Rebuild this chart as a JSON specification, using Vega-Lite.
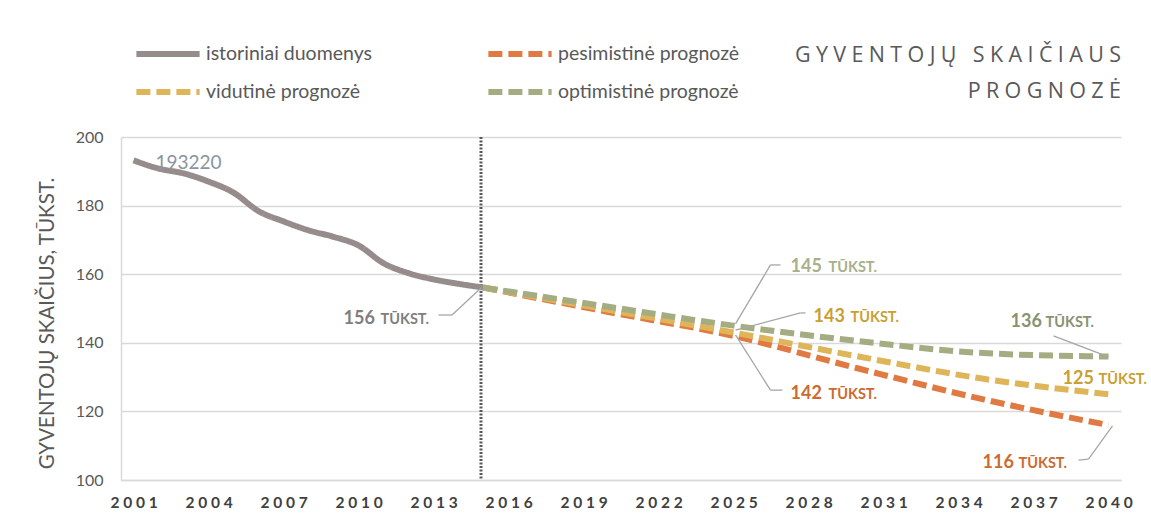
{
  "$schema": "https://vega.github.io/schema/vega-lite/v6.json",
  "width": 1000,
  "height": 343,
  "autosize": {"type": "none"},
  "padding": {"left": 121, "top": 137, "right": 30, "bottom": 51},
  "background": "white",
  "config": {
    "view": {"stroke": null},
    "font": "Lato"
  },
  "title": {
    "text": ["G\u2005Y\u2005V\u2005E\u2005N\u2005T\u2005O\u2005J\u2005Ų\u2005 \u2005S\u2005K\u2005A\u2005I\u2005Č\u2005I\u2005A\u2005U\u2005S", "P\u2005R\u2005O\u2005G\u2005N\u2005O\u2005Z\u2005Ė"],
    "anchor": "end",
    "frame": "group",
    "font": "Open Sans",
    "fontSize": 21.5,
    "fontWeight": "normal",
    "color": "#595959",
    "lineHeight": 36,
    "offset": -58
  },
  "datasets": {
    "series": [
      {"series": "istoriniai duomenys", "year": 2001, "value": 193.2},
      {"series": "istoriniai duomenys", "year": 2002, "value": 190.8},
      {"series": "istoriniai duomenys", "year": 2003, "value": 189.4},
      {"series": "istoriniai duomenys", "year": 2004, "value": 187.0},
      {"series": "istoriniai duomenys", "year": 2005, "value": 183.8},
      {"series": "istoriniai duomenys", "year": 2006, "value": 178.4},
      {"series": "istoriniai duomenys", "year": 2007, "value": 175.4},
      {"series": "istoriniai duomenys", "year": 2008, "value": 172.8},
      {"series": "istoriniai duomenys", "year": 2009, "value": 170.9},
      {"series": "istoriniai duomenys", "year": 2010, "value": 168.4},
      {"series": "istoriniai duomenys", "year": 2011, "value": 163.2},
      {"series": "istoriniai duomenys", "year": 2012, "value": 160.3},
      {"series": "istoriniai duomenys", "year": 2013, "value": 158.5},
      {"series": "istoriniai duomenys", "year": 2014, "value": 157.2},
      {"series": "istoriniai duomenys", "year": 2015, "value": 156.1},
      {"series": "pesimistinė prognozė", "year": 2015, "value": 156.1},
      {"series": "pesimistinė prognozė", "year": 2020, "value": 149.0},
      {"series": "pesimistinė prognozė", "year": 2025, "value": 142.0},
      {"series": "pesimistinė prognozė", "year": 2030, "value": 132.5},
      {"series": "pesimistinė prognozė", "year": 2035, "value": 123.5},
      {"series": "pesimistinė prognozė", "year": 2040, "value": 116.0},
      {"series": "vidutinė prognozė", "year": 2015, "value": 156.1},
      {"series": "vidutinė prognozė", "year": 2020, "value": 149.6},
      {"series": "vidutinė prognozė", "year": 2025, "value": 143.0},
      {"series": "vidutinė prognozė", "year": 2030, "value": 136.0},
      {"series": "vidutinė prognozė", "year": 2035, "value": 129.5},
      {"series": "vidutinė prognozė", "year": 2040, "value": 125.0},
      {"series": "optimistinė prognozė", "year": 2015, "value": 156.1},
      {"series": "optimistinė prognozė", "year": 2020, "value": 150.5},
      {"series": "optimistinė prognozė", "year": 2025, "value": 145.0},
      {"series": "optimistinė prognozė", "year": 2030, "value": 140.5},
      {"series": "optimistinė prognozė", "year": 2035, "value": 137.0},
      {"series": "optimistinė prognozė", "year": 2040, "value": 136.0}
    ],
    "leaders": [
      {"x": 2014.9, "y": 156.0, "x2": 2013.74, "y2": 148.1},
      {"x": 2013.74, "y": 148.1, "x2": 2013.2, "y2": 148.1},
      {"x": 2025.08, "y": 145.5, "x2": 2026.48, "y2": 162.7},
      {"x": 2026.48, "y": 162.7, "x2": 2026.88, "y2": 162.7},
      {"x": 2025.08, "y": 143.7, "x2": 2027.68, "y2": 148.7},
      {"x": 2027.68, "y": 148.7, "x2": 2027.88, "y2": 148.7},
      {"x": 2025.08, "y": 142.3, "x2": 2026.48, "y2": 126.2},
      {"x": 2026.48, "y": 126.2, "x2": 2026.96, "y2": 126.2},
      {"x": 2037.8, "y": 142.0, "x2": 2040.0, "y2": 135.9},
      {"x": 2040.16, "y": 115.8, "x2": 2039.2, "y2": 106.1},
      {"x": 2039.2, "y": 106.1, "x2": 2038.8, "y2": 105.8}
    ],
    "labels": [
      {"num": "156", "unit": "TŪKST.", "nx": 2009.4, "ux": 2010.88, "y": 145.6, "tone": "gray"},
      {"num": "145", "unit": "TŪKST.", "nx": 2027.28, "ux": 2028.8, "y": 160.5, "tone": "lightgreen"},
      {"num": "143", "unit": "TŪKST.", "nx": 2028.2, "ux": 2029.68, "y": 146.2, "tone": "yellow"},
      {"num": "142", "unit": "TŪKST.", "nx": 2027.28, "ux": 2028.8, "y": 123.5, "tone": "orange"},
      {"num": "136", "unit": "TŪKST.", "nx": 2036.08, "ux": 2037.48, "y": 144.5, "tone": "darkgreen"},
      {"num": "125", "unit": "TŪKST.", "nx": 2038.16, "ux": 2039.6, "y": 128.1, "tone": "yellow"},
      {"num": "116", "unit": "TŪKST.", "nx": 2034.96, "ux": 2036.4, "y": 103.6, "tone": "orange"}
    ],
    "start": [{"text": "193220", "x": 2001.88, "y": 190.8}],
    "divider": [{"x": 2014.9}]
  },
  "layer": [
    {
      "data": {"name": "divider"},
      "mark": {"type": "rule", "color": "#595959", "strokeWidth": 3, "strokeDash": [2, 1.5]},
      "encoding": {
        "x": {"field": "x", "type": "quantitative", "scale": {"domain": [2000.5, 2040.5], "nice": false, "zero": false}}
      }
    },
    {
      "data": {"name": "series"},
      "mark": {"type": "line", "strokeWidth": 6, "interpolate": "monotone", "strokeCap": "butt"},
      "encoding": {
        "x": {
          "field": "year", "type": "quantitative",
          "scale": {"domain": [2000.5, 2040.5], "nice": false, "zero": false},
          "axis": {
            "title": null,
            "values": [2001, 2004, 2007, 2010, 2013, 2016, 2019, 2022, 2025, 2028, 2031, 2034, 2037, 2040],
            "format": "d",
            "labelExpr": "join(split(datum.label, ''), ' ')",
            "grid": false,
            "ticks": false,
            "domainColor": "#d9d9d9",
            "domainWidth": 1.5,
            "labelFont": "Lato",
            "labelFontWeight": "bold",
            "labelFontSize": 15.5,
            "labelColor": "#404040",
            "labelPadding": 15
          }
        },
        "y": {
          "field": "value", "type": "quantitative",
          "scale": {"domain": [100, 200], "nice": false, "zero": false},
          "axis": {
            "title": "GYVENTOJŲ SKAIČIUS, TŪKST.",
            "values": [100, 120, 140, 160, 180, 200],
            "grid": true,
            "gridColor": "#d9d9d9",
            "gridWidth": 1.5,
            "ticks": false,
            "domainColor": "#d9d9d9",
            "domainWidth": 1.5,
            "labelFont": "Lato",
            "labelFontSize": 16,
            "labelColor": "#595959",
            "labelPadding": 18,
            "titleFont": "Lato",
            "titleFontSize": 20.5,
            "titleFontWeight": "normal",
            "titleColor": "#595959",
            "titleAngle": 270,
            "titleX": -74,
            "titleY": 186,
            "titleAlign": "center",
            "titleBaseline": "middle"
          }
        },
        "color": {
          "field": "series", "type": "nominal",
          "scale": {
            "domain": ["istoriniai duomenys", "pesimistinė prognozė", "vidutinė prognozė", "optimistinė prognozė"],
            "range": ["#978c8c", "#e07a42", "#dfb55a", "#a4ad82"]
          },
          "legend": {
            "title": null,
            "orient": "none",
            "legendX": 12,
            "legendY": -93,
            "columns": 2,
            "direction": "horizontal",
            "columnPadding": 113,
            "rowPadding": 18,
            "clipHeight": 20,
            "symbolType": "stroke",
            "symbolSize": 4000,
            "symbolStrokeWidth": 6,
            "labelFont": "Lato",
            "labelFontSize": 19.5,
            "labelColor": "#595959",
            "labelOffset": 3,
            "labelLimit": 400
          }
        },
        "strokeDash": {
          "field": "series", "type": "nominal",
          "scale": {
            "domain": ["istoriniai duomenys", "pesimistinė prognozė", "vidutinė prognozė", "optimistinė prognozė"],
            "range": [[1, 0], [14, 6], [14, 6], [14, 6]]
          },
          "legend": null
        },
        "order": {"field": "year", "type": "quantitative"}
      }
    },
    {
      "data": {"name": "leaders"},
      "mark": {"type": "rule", "color": "#a6a6a6", "strokeWidth": 1.3},
      "encoding": {
        "x": {"field": "x", "type": "quantitative"},
        "y": {"field": "y", "type": "quantitative"},
        "x2": {"field": "x2"},
        "y2": {"field": "y2"}
      }
    },
    {
      "data": {"name": "labels"},
      "mark": {"type": "text", "font": "Lato", "fontWeight": "bold", "fontSize": 18, "align": "left", "baseline": "alphabetic"},
      "encoding": {
        "x": {"field": "nx", "type": "quantitative"},
        "y": {"field": "y", "type": "quantitative"},
        "text": {"field": "num"},
        "fill": {
          "field": "tone", "type": "nominal",
          "scale": {"domain": ["gray", "lightgreen", "yellow", "orange", "darkgreen"], "range": ["#7f7f7f", "#a8b08a", "#c9a032", "#cc6a30", "#8a9270"]},
          "legend": null
        }
      }
    },
    {
      "data": {"name": "labels"},
      "mark": {"type": "text", "font": "Lato", "fontWeight": "bold", "fontSize": 14.5, "align": "left", "baseline": "alphabetic"},
      "encoding": {
        "x": {"field": "ux", "type": "quantitative"},
        "y": {"field": "y", "type": "quantitative"},
        "text": {"field": "unit"},
        "fill": {
          "field": "tone", "type": "nominal",
          "scale": {"domain": ["gray", "lightgreen", "yellow", "orange", "darkgreen"], "range": ["#7f7f7f", "#a8b08a", "#c9a032", "#cc6a30", "#8a9270"]},
          "legend": null
        }
      }
    },
    {
      "data": {"name": "start"},
      "mark": {"type": "text", "font": "Lato", "fontSize": 19, "align": "left", "baseline": "alphabetic", "color": "#8a94a0"},
      "encoding": {
        "x": {"field": "x", "type": "quantitative"},
        "y": {"field": "y", "type": "quantitative"},
        "text": {"field": "text"}
      }
    }
  ]
}
